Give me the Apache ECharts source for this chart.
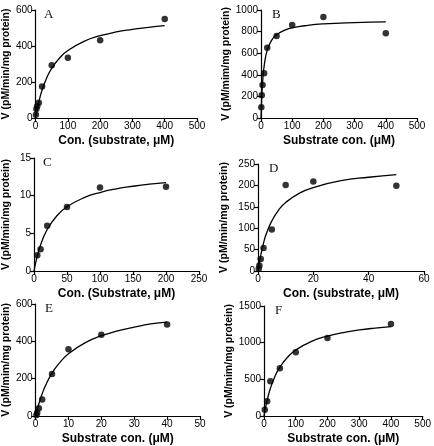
<!DOCTYPE html>
<html>
<head>
<meta charset="utf-8">
<script src="https://cdn.jsdelivr.net/npm/echarts@6/dist/echarts.min.js"></script>
<style>
  html, body { margin: 0; padding: 0; background: #fff; }
  #chart { width: 434px; height: 446px; }
</style>
</head>
<body>
<div id="chart"></div>
<script>
// measured points (substrate conc, rate)
const aConc = [1, 2.5, 5, 10, 20, 50, 100, 200, 400];
const aRate = [18, 50, 65, 85, 175, 293, 335, 432, 550];
const bConc = [1, 2.5, 5, 10, 20, 50, 100, 200, 400];
const bRate = [100, 210, 305, 415, 650, 760, 860, 935, 785];
const cConc = [5, 10, 20, 50, 100, 200];
const cRate = [2.1, 2.9, 6.0, 8.5, 11.1, 11.2];
const dConc = [0.25, 0.5, 1, 2, 5, 10, 20, 50];
const dRate = [5, 13, 28, 54, 97, 201, 209, 199];
const eConc = [0.25, 0.5, 1, 2, 5, 10, 20, 40];
const eRate = [5, 18, 42, 88, 225, 357, 435, 490];
const fConc = [2.5, 10, 20, 50, 100, 200, 400];
const fRate = [85, 200, 475, 650, 870, 1065, 1255];

// fitted curves
const aFitX = [0, 2, 5, 10, 20, 35, 50, 75, 100, 150, 200, 250, 300, 350, 400];
const aFitY = [0, 20, 48, 89, 154, 225, 276, 335, 375, 426, 457, 478, 492, 504, 513];
const bFitX = [0, 1, 2.5, 5, 10, 20, 35, 50, 75, 100, 150, 200, 300, 400];
const bFitY = [0, 91, 198, 325, 479, 628, 724, 771, 812, 835, 858, 871, 883, 890];
const cFitX = [0, 2.5, 5, 10, 20, 35, 50, 75, 100, 125, 150, 175, 200];
const cFitY = [0, 1.07, 1.99, 3.47, 5.51, 7.37, 8.52, 9.70, 10.42, 10.91, 11.25, 11.52, 11.72];
const dFitX = [0, 0.5, 1, 2, 3, 5, 7.5, 10, 15, 20, 30, 40, 50];
const dFitY = [0, 20, 37, 65, 87, 117, 143, 160, 182, 195, 211, 219, 225];
const eFitX = [0, 0.5, 1, 2, 3, 5, 7.5, 10, 15, 20, 25, 30, 35, 40];
const eFitY = [0, 35, 66, 119, 162, 230, 289, 333, 392, 430, 456, 476, 493, 503];
const fFitX = [0, 2.5, 5, 10, 20, 35, 50, 75, 100, 150, 200, 250, 300, 350, 400];
const fFitY = [0, 61, 117, 216, 374, 546, 666, 805, 899, 1018, 1090, 1138, 1173, 1199, 1220];

const panelLetters = ['A', 'B', 'C', 'D', 'E', 'F'];
const xNames = ['Con. (substrate, \u03bcM)', 'Substrate con. (\u03bcM)', 'Con. (Substrate, \u03bcM)',
  'Con. (substrate, \u03bcM)', 'Substrate con. (\u03bcM)', 'Substrate con. (\u03bcM)'];
const yNames = ['V (pM/min/mg protein)', 'V (pM/mim/mg protein)', 'V (pM/min/mg protein)',
  'V (pM/min/mg protein)', 'V (pM/mim/mg protein)', 'V (pM/mim/mg protein)'];
const xMax = [500, 500, 250, 60, 50, 500];
const xStep = [100, 100, 50, 20, 10, 100];
const yMax = [600, 1000, 15, 250, 600, 1500];
const yStep = [200, 200, 5, 50, 200, 500];

const points = [[aConc, aRate], [bConc, bRate], [cConc, cRate], [dConc, dRate], [eConc, eRate], [fConc, fRate]];
const fits = [[aFitX, aFitY], [bFitX, bFitY], [cFitX, cFitY], [dFitX, dFitY], [eFitX, eFitY], [fFitX, fFitY]];

// grid boxes in px: left, top, width, height
const boxes = [
  [33, 10, 164, 108],
  [261, 10, 156, 108],
  [32, 158, 167, 113],
  [258, 164, 166, 107],
  [34, 304, 166, 114],
  [264, 306, 166, 114]
];

const zip = (xs, ys) => xs.map((x, i) => [x, ys[i]]);
const axisStyle = {
  axisLine: { show: true, onZero: false, lineStyle: { color: '#000', width: 1.2 } },
  axisTick: { show: true, inside: false, length: 4, lineStyle: { color: '#000', width: 1.2 } },
  splitLine: { show: false },
  axisLabel: { color: '#000', fontSize: 10, fontFamily: 'Liberation Sans', margin: 3,
    formatter: v => String(v) }
};

const chart = echarts.init(document.getElementById('chart'));
chart.setOption({
  animation: false,
  backgroundColor: '#fff',
  title: panelLetters.map((t, i) => ({
    text: t,
    left: boxes[i][0] + 6,
    top: boxes[i][1] - 7,
    textStyle: { fontSize: 13, fontWeight: 'normal', fontFamily: 'Liberation Serif', color: '#111' }
  })),
  grid: boxes.map(b => ({ left: b[0], top: b[1], width: b[2], height: b[3] })),
  xAxis: boxes.map((b, i) => Object.assign({}, axisStyle, {
    type: 'value', gridIndex: i, min: 0, max: xMax[i], interval: xStep[i],
    name: xNames[i], nameLocation: 'middle', nameGap: 17,
    nameTextStyle: { color: '#000', fontSize: 12, fontWeight: 'bold', fontFamily: 'Liberation Sans' }
  })),
  yAxis: boxes.map((b, i) => Object.assign({}, axisStyle, {
    type: 'value', gridIndex: i, min: 0, max: yMax[i], interval: yStep[i],
    name: yNames[i], nameLocation: 'middle', nameGap: i % 2 ? 28 : 22,
    nameTextStyle: { color: '#000', fontSize: 10.5, fontWeight: 'bold', fontFamily: 'Liberation Sans' }
  })),
  series: [].concat(
    fits.map((f, i) => ({
      type: 'line', xAxisIndex: i, yAxisIndex: i, data: zip(f[0], f[1]),
      smooth: true, showSymbol: false, lineStyle: { color: '#000', width: 1.3 }
    })),
    points.map((p, i) => ({
      type: 'scatter', xAxisIndex: i, yAxisIndex: i, data: zip(p[0], p[1]),
      symbolSize: 6.5, itemStyle: { color: '#000' }
    }))
  )
});
</script>
</body>
</html>
